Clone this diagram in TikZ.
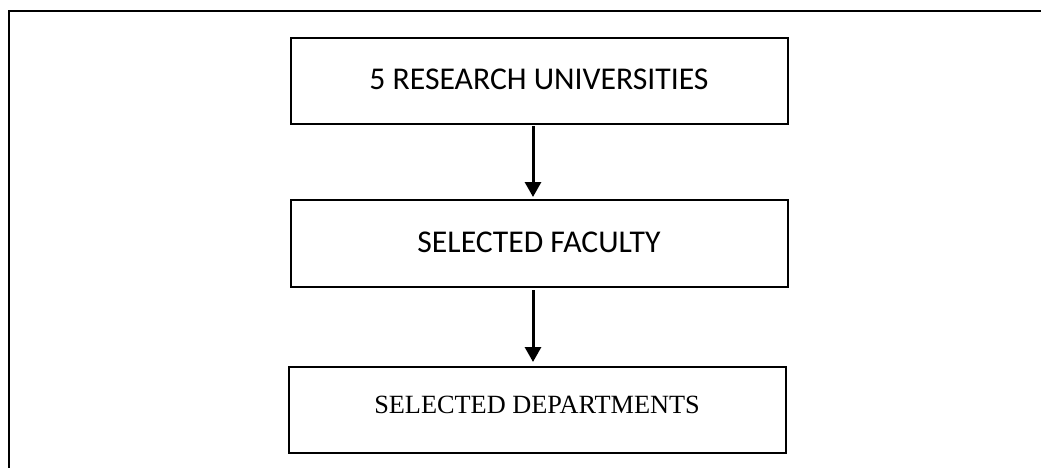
\documentclass[tikz,border=0pt]{standalone}
\usepackage{fontspec}
\setmainfont{Liberation Serif}
\newfontfamily\calfont{Carlito}
\usetikzlibrary{arrows.meta}
\tikzset{
  boxnode/.style={draw=black, line width=2pt, minimum width=497pt, minimum height=86pt, inner sep=0pt, outer sep=0pt},
  sanslabel/.style={font=\calfont\fontsize{31.7pt}{36pt}\selectfont, anchor=base, inner sep=0pt},
  seriflabel/.style={font=\fontsize{26.3pt}{30pt}\selectfont, anchor=base, inner sep=0pt},
  flowarrow/.style={line width=3pt, -{Triangle[width=16pt,length=15pt]}},
  framepen/.style={line width=2pt}
}
\begin{document}
\begin{tikzpicture}[x=1pt,y=-1pt]
\useasboundingbox (0,0) rectangle (1041,468);
% outer frame (top and left edges visible)
\coordinate (fbl) at (9,468);
\coordinate (ftl) at (9,11);
\coordinate (ftr) at (1041,11);
\draw[framepen] (fbl) -- (ftl) -- (ftr);
% boxes
\node[boxnode] (b1) at (539,81) {};
\node[boxnode, minimum height=87pt] (b2) at (539.5,243.5) {};
\node[boxnode] (b3) at (537.5,410) {};
% labels
\node[sanslabel] (t1) at (539,90) {5 RESEARCH UNIVERSITIES};
\node[sanslabel] (t2) at (539,252) {SELECTED FACULTY};
\node[seriflabel] (t3) at (537,413) {SELECTED DEPARTMENTS};
% arrows
\coordinate (ax) at (533,0);
\draw[flowarrow, shorten <=2pt, shorten >=3pt] (b1.south -| ax) -- (b2.north -| ax);
\draw[flowarrow, shorten <=3pt, shorten >=5pt] (b2.south -| ax) -- (b3.north -| ax);
\end{tikzpicture}
\end{document}
